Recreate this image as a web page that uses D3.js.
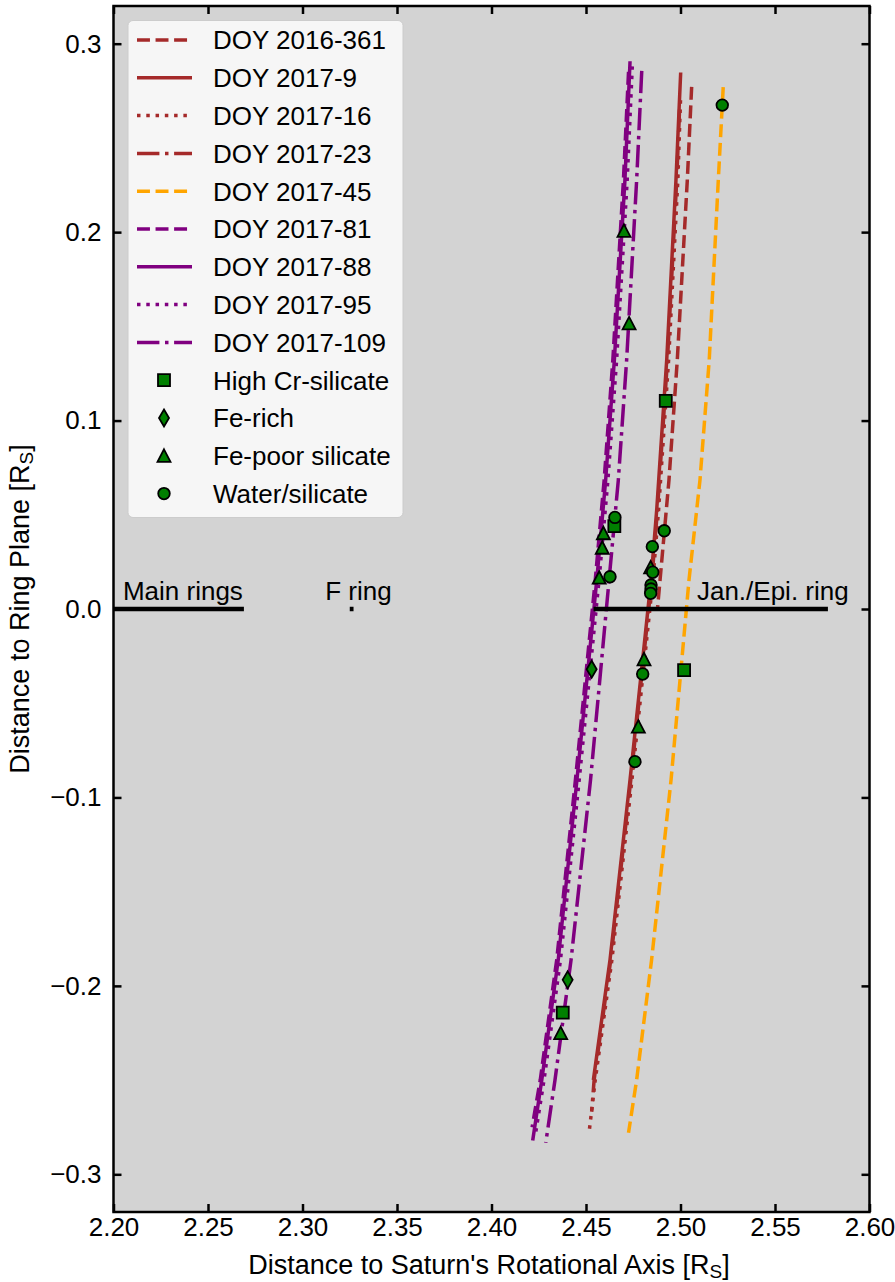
<!DOCTYPE html>
<html>
<head>
<meta charset="utf-8">
<script src="https://cdn.jsdelivr.net/npm/d3@7"></script>
<style>
  body { margin: 0; background: #fff; }
  text { font-family: "Liberation Sans", Arial, sans-serif; fill: #000; }
</style>
</head>
<body>
<svg id="chart" width="895" height="1282"></svg>
<script>
// trajectories: [distance to axis, distance to ring plane]
const doy2016_361 = [[2.5059, 0.2771], [2.5036, 0.2276], [2.4983, 0.1321], [2.4939, 0.0684], [2.4879, 0.0011]];
const doy2017_9 = [[2.5001, 0.2847], [2.4976, 0.2276], [2.4927, 0.1321], [2.4874, 0.0525], [2.4844, 0.0154],
  [2.4733, -0.0907], [2.4627, -0.1862], [2.4539, -0.2499]];
const doy2017_16 = [[2.5000, 0.2700], [2.4986, 0.2276], [2.4937, 0.1321], [2.4884, 0.0525], [2.4854, 0.0154],
  [2.4743, -0.0907], [2.4637, -0.1862], [2.4549, -0.2499], [2.4516, -0.2780]];
const doy2017_23 = [[2.4995, 0.2650], [2.4980, 0.2276], [2.4931, 0.1321], [2.4878, 0.0525], [2.4848, 0.0154],
  [2.4737, -0.0907], [2.4631, -0.1862], [2.4543, -0.2499], [2.4530, -0.2668]];
const doy2017_45 = [[2.5226, 0.2769], [2.5200, 0.2276], [2.5152, 0.1321], [2.5103, 0.0684], [2.5045, 0.0154],
  [2.4950, -0.0907], [2.4847, -0.1862], [2.4768, -0.2499], [2.4725, -0.2780]];
const doy2017_81 = [[2.4725, 0.2850], [2.4698, 0.2276], [2.4642, 0.1321], [2.4596, 0.0684], [2.4549, 0.0154],
  [2.4444, -0.0907], [2.4345, -0.1862], [2.4258, -0.2499], [2.4215, -0.2750]];
const doy2017_88 = [[2.4733, 0.2907], [2.4706, 0.2276], [2.4650, 0.1321], [2.4604, 0.0684], [2.4557, 0.0154],
  [2.4452, -0.0907], [2.4353, -0.1862], [2.4266, -0.2499], [2.4218, -0.2821]];
const doy2017_95 = [[2.4745, 0.2880], [2.4718, 0.2276], [2.4662, 0.1321], [2.4616, 0.0684], [2.4569, 0.0154],
  [2.4464, -0.0907], [2.4365, -0.1862], [2.4278, -0.2499], [2.4232, -0.2790]];
const doy2017_109 = [[2.4795, 0.2856], [2.4768, 0.2276], [2.4715, 0.1321], [2.4671, 0.0684], [2.4622, 0.0154],
  [2.4524, -0.0907], [2.4421, -0.1862], [2.4336, -0.2499], [2.4287, -0.2833]];

const trajLabels = ["DOY 2016-361", "DOY 2017-9", "DOY 2017-16", "DOY 2017-23", "DOY 2017-45",
  "DOY 2017-81", "DOY 2017-88", "DOY 2017-95", "DOY 2017-109"];
const trajData = [doy2016_361, doy2017_9, doy2017_16, doy2017_23, doy2017_45,
  doy2017_81, doy2017_88, doy2017_95, doy2017_109];
const trajColors = ["brown", "brown", "brown", "brown", "orange", "purple", "purple", "purple", "purple"];
const trajStyles = ["dashed", "solid", "dotted", "dashdot", "dashed", "dashed", "solid", "dotted", "dashdot"];

// dust impacts by type
const highCr = [[2.4922, 0.1105], [2.4650, 0.0440], [2.5019, -0.0324], [2.4377, -0.2142]];
const feRich = [[2.4530, -0.0320], [2.4403, -0.1968]];
const fePoor = [[2.4701, 0.2007], [2.4728, 0.1516], [2.4592, 0.0402], [2.4586, 0.0325], [2.4570, 0.0166],
  [2.4842, 0.0221], [2.4807, -0.0267], [2.4777, -0.0624], [2.4366, -0.2251]];
const waterSil = [[2.5221, 0.2674], [2.4653, 0.0486], [2.4914, 0.0415], [2.4851, 0.0331], [2.4627, 0.0171],
  [2.4853, 0.0195], [2.4844, 0.0127], [2.4844, 0.0106], [2.4842, 0.0083], [2.4800, -0.0345], [2.4759, -0.0810]];

const typeLabels = ["High Cr-silicate", "Fe-rich", "Fe-poor silicate", "Water/silicate"];
const typeData = [highCr, feRich, fePoor, waterSil];
const typeShapes = ["square", "thin_diamond", "triangle", "circle"];

// rings on the ring plane
const ringNames = ["Main rings", "F ring", "Jan./Epi. ring"];
const ringExtent = [[2.200, 2.269], [2.325, 2.327], [2.454, 2.578]];
const ringTextX = [2.205, 2.312, 2.5087];

const xTicks = [2.20, 2.25, 2.30, 2.35, 2.40, 2.45, 2.50, 2.55, 2.60];
const yTicks = [-0.3, -0.2, -0.1, 0.0, 0.1, 0.2, 0.3];

const svg = d3.select("#chart");
const pLeft = 113.5, pRight = 869.5, pTop = 6, pBottom = 1212;

const x = d3.scaleLinear().domain([2.2, 2.6]).range([pLeft, pRight]);
const y = d3.scaleLinear().domain([-0.32, 0.32]).range([pBottom, pTop]);

const lw = 3.5;
const dashes = {
  solid: null,
  dashed: [3.7 * lw, 1.6 * lw].join(","),
  dotted: [1 * lw, 1.65 * lw].join(","),
  dashdot: [6.4 * lw, 1.6 * lw, 1 * lw, 1.6 * lw].join(",")
};
const green = "#008000";

function markerPath(shape) {
  if (shape === "square") return "M-6,-6H6V6H-6Z";
  if (shape === "thin_diamond") return "M0,-8.5L5,0L0,8.5L-5,0Z";
  if (shape === "triangle") return "M0,-6.5L6.5,6L-6.5,6Z";
  return d3.arc()({innerRadius: 0, outerRadius: 5.8, startAngle: 0, endAngle: 2 * Math.PI});
}

svg.append("rect")
  .attr("x", pLeft).attr("y", pTop)
  .attr("width", pRight - pLeft).attr("height", pBottom - pTop)
  .attr("fill", "#d3d3d3");

svg.append("defs").append("clipPath").attr("id", "clip")
  .append("rect")
  .attr("x", pLeft).attr("y", pTop)
  .attr("width", pRight - pLeft).attr("height", pBottom - pTop);

const plot = svg.append("g").attr("clip-path", "url(#clip)");

const line = d3.line().x(d => x(d[0])).y(d => y(d[1]));

trajData.forEach((d, i) => {
  plot.append("path")
    .datum(d)
    .attr("d", line)
    .attr("fill", "none")
    .attr("stroke", trajColors[i])
    .attr("stroke-width", lw)
    .attr("stroke-dasharray", dashes[trajStyles[i]]);
});

ringExtent.forEach((e, i) => {
  plot.append("line")
    .attr("x1", x(e[0])).attr("x2", x(e[1]))
    .attr("y1", y(0)).attr("y2", y(0))
    .attr("stroke", "#000")
    .attr("stroke-width", 4.5);
  plot.append("text")
    .attr("x", x(ringTextX[i]))
    .attr("y", y(0) - 9)
    .attr("font-size", 26)
    .text(ringNames[i]);
});

typeData.forEach((d, i) => {
  plot.selectAll(null)
    .data(d)
    .enter()
    .append("path")
    .attr("d", markerPath(typeShapes[i]))
    .attr("transform", p => `translate(${x(p[0])},${y(p[1])})`)
    .attr("fill", green)
    .attr("stroke", "#000")
    .attr("stroke-width", 1.8);
});

// axes with inward ticks on all sides
const tickLen = 8;
const axes = svg.append("g");

axes.append("g")
  .attr("transform", `translate(0,${pBottom})`)
  .call(d3.axisBottom(x).tickValues(xTicks).tickSize(-tickLen).tickPadding(6).tickFormat(d3.format(".2f")));
axes.append("g")
  .attr("transform", `translate(0,${pTop})`)
  .call(d3.axisTop(x).tickValues(xTicks).tickSize(-tickLen).tickFormat(""));
axes.append("g")
  .attr("transform", `translate(${pLeft},0)`)
  .call(d3.axisLeft(y).tickValues(yTicks).tickSize(-tickLen).tickPadding(12)
    .tickFormat(d => d3.format(".1f")(d).replace("-", "\u2212")));
axes.append("g")
  .attr("transform", `translate(${pRight},0)`)
  .call(d3.axisRight(y).tickValues(yTicks).tickSize(-tickLen).tickFormat(""));

axes.selectAll(".domain").remove();
axes.selectAll(".tick line").attr("stroke", "#000").attr("stroke-width", 2.5);
axes.selectAll(".tick text").attr("font-size", 26).attr("font-family", "Liberation Sans, Arial, sans-serif").attr("fill", "#000");

svg.append("rect")
  .attr("x", pLeft).attr("y", pTop)
  .attr("width", pRight - pLeft).attr("height", pBottom - pTop)
  .attr("fill", "none")
  .attr("stroke", "#000")
  .attr("stroke-width", 2.5);

// axis labels
const xl = svg.append("text")
  .attr("x", 489)
  .attr("y", 1274)
  .attr("text-anchor", "middle")
  .attr("font-size", 27);
xl.append("tspan").text("Distance to Saturn's Rotational Axis [R");
xl.append("tspan").attr("font-size", 19).attr("dy", 4).text("S");
xl.append("tspan").attr("dy", -4).text("]");

const yl = svg.append("text")
  .attr("transform", `translate(29,${y(0)}) rotate(-90)`)
  .attr("text-anchor", "middle")
  .attr("font-size", 27);
yl.append("tspan").text("Distance to Ring Plane [R");
yl.append("tspan").attr("font-size", 19).attr("dy", 4).text("S");
yl.append("tspan").attr("dy", -4).text("]");

// legend
const legend = svg.append("g");
legend.append("rect")
  .attr("x", 128).attr("y", 20.5)
  .attr("width", 275).attr("height", 497)
  .attr("rx", 5)
  .attr("fill", "#f6f6f6")
  .attr("stroke", "#cccccc")
  .attr("stroke-width", 1);

const rowY = i => 40 + i * 37.8;

trajLabels.forEach((lab, i) => {
  legend.append("line")
    .attr("x1", 137).attr("x2", 192)
    .attr("y1", rowY(i)).attr("y2", rowY(i))
    .attr("stroke", trajColors[i])
    .attr("stroke-width", lw)
    .attr("stroke-dasharray", dashes[trajStyles[i]]);
  legend.append("text")
    .attr("x", 213).attr("y", rowY(i) + 9.3)
    .attr("font-size", 26)
    .text(lab);
});

typeLabels.forEach((lab, j) => {
  const i = trajLabels.length + j;
  legend.append("path")
    .attr("d", markerPath(typeShapes[j]))
    .attr("transform", `translate(164,${rowY(i)})`)
    .attr("fill", green)
    .attr("stroke", "#000")
    .attr("stroke-width", 1.8);
  legend.append("text")
    .attr("x", 213).attr("y", rowY(i) + 9.3)
    .attr("font-size", 26)
    .text(lab);
});
</script>
</body>
</html>
